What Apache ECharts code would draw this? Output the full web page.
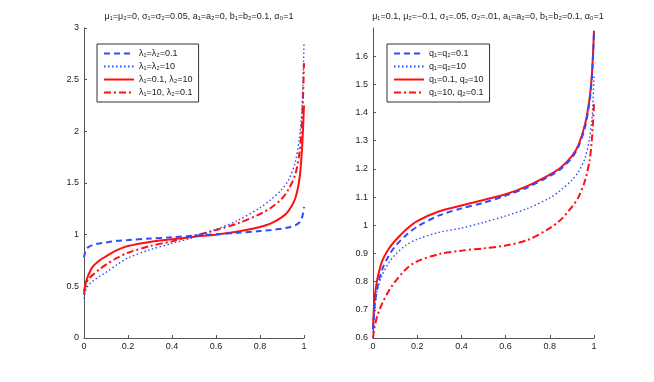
<!DOCTYPE html>
<html>
<head>
<meta charset="utf-8">
<script src="https://cdn.jsdelivr.net/npm/echarts@6/dist/echarts.min.js"></script>
<style>
html,body{margin:0;padding:0;background:#fff;}
#chart{width:654px;height:382px;}
</style>
</head>
<body>
<div id="chart"></div>
<script>
// x positions shared by all curves (probability levels)
const xs = [0, 0.005, 0.01, 0.02, 0.04, 0.07, 0.1, 0.15, 0.2, 0.3, 0.4, 0.5, 0.6, 0.7, 0.8, 0.85, 0.9, 0.93, 0.96, 0.98, 0.99, 0.995, 1];

// left panel
const leftNames = ['λ₁=λ₂=0.1', 'λ₁=λ₂=10', 'λ₁=0.1, λ₂=10', 'λ₁=10, λ₂=0.1'];
const leftA = [0.78, 0.83, 0.86, 0.88, 0.90, 0.915, 0.925, 0.94, 0.948, 0.962, 0.975, 0.99, 1.003, 1.018, 1.035, 1.045, 1.058, 1.07, 1.09, 1.12, 1.16, 1.2, 1.27];
const leftB = [0.38, 0.44, 0.47, 0.51, 0.55, 0.595, 0.635, 0.71, 0.775, 0.855, 0.915, 0.975, 1.05, 1.14, 1.26, 1.34, 1.44, 1.53, 1.7, 1.95, 2.2, 2.45, 2.85];
const leftC = [0.42, 0.5, 0.55, 0.61, 0.69, 0.75, 0.79, 0.85, 0.89, 0.93, 0.955, 0.98, 1.0, 1.03, 1.075, 1.11, 1.17, 1.23, 1.35, 1.55, 1.8, 2.0, 2.25];
const leftD = [0.45, 0.5, 0.53, 0.57, 0.61, 0.665, 0.71, 0.775, 0.825, 0.89, 0.935, 0.99, 1.045, 1.11, 1.2, 1.26, 1.35, 1.44, 1.58, 1.8, 2.05, 2.3, 2.66];

// right panel
const rightNames = ['q₁=q₂=0.1', 'q₁=q₂=10', 'q₁=0.1, q₂=10', 'q₁=10, q₂=0.1'];
const rightA = [0.63, 0.69, 0.73, 0.78, 0.84, 0.89, 0.925, 0.965, 0.995, 1.035, 1.06, 1.08, 1.105, 1.135, 1.175, 1.2, 1.24, 1.28, 1.35, 1.44, 1.52, 1.59, 1.68];
const rightB = [0.62, 0.68, 0.72, 0.77, 0.82, 0.865, 0.895, 0.93, 0.95, 0.975, 0.99, 1.01, 1.033, 1.06, 1.097, 1.125, 1.16, 1.19, 1.24, 1.31, 1.37, 1.43, 1.53];
const rightC = [0.63, 0.72, 0.76, 0.81, 0.87, 0.915, 0.945, 0.985, 1.015, 1.05, 1.07, 1.09, 1.11, 1.14, 1.18, 1.205, 1.245, 1.285, 1.36, 1.45, 1.53, 1.6, 1.69];
const rightD = [0.6, 0.63, 0.65, 0.68, 0.72, 0.765, 0.8, 0.845, 0.872, 0.898, 0.91, 0.918, 0.928, 0.948, 0.99, 1.02, 1.065, 1.1, 1.16, 1.23, 1.3, 1.36, 1.43];

const leftTitle = 'μ₁=μ₂=0, σ₁=σ₂=0.05, a₁=a₂=0, b₁=b₂=0.1, α₀=1';
const rightTitle = 'μ₁=0.1, μ₂=−0.1, σ₁=.05, σ₂=.01, a₁=a₂=0, b₁=b₂=0.1, α₀=1';

const BLUE = '#2f4bff', RED = '#ff1010';
const styles = [
  {color: BLUE, width: 2, type: [6, 4]},
  {color: BLUE, width: 1.4, type: [1.5, 2.5]},
  {color: RED, width: 2, type: 'solid'},
  {color: RED, width: 2, type: [7, 3, 2, 3]}
];
const FONT = 'Liberation Sans, Arial, sans-serif';

const pairs = ys => xs.map((x, i) => [x, ys[i]]);

const mkSeries = (names, arrs, idx) => arrs.map((ys, k) => ({
  name: names[k],
  type: 'line',
  xAxisIndex: idx,
  yAxisIndex: idx,
  data: pairs(ys),
  showSymbol: false,
  symbol: 'none',
  smooth: 0.3,
  z: 10 - k,
  lineStyle: styles[k],
  itemStyle: {color: styles[k].color}
}));

const mkX = idx => ({
  type: 'value', gridIndex: idx, min: 0, max: 1, interval: 0.2,
  axisLine: {lineStyle: {color: '#555', width: 1}},
  axisTick: {inside: true, length: 3, lineStyle: {color: '#555'}},
  axisLabel: {color: '#222', fontSize: 9, fontFamily: FONT, margin: 4},
  splitLine: {show: false}
});

const mkY = (idx, min, max, step) => ({
  type: 'value', gridIndex: idx, min: min, max: max, interval: step,
  axisLine: {show: true, lineStyle: {color: '#555', width: 1}},
  axisTick: {show: true, inside: true, length: 3, lineStyle: {color: '#555'}},
  axisLabel: {color: '#222', fontSize: 9, fontFamily: FONT, margin: 5,
    showMaxLabel: idx === 0, formatter: v => String(+v.toFixed(1))},
  splitLine: {show: false}
});

// legend: line samples only, symbol hidden
const mkLegend = (names, left) => ({
  data: names, orient: 'vertical', left: left, top: 44,
  backgroundColor: '#fff', borderColor: '#333', borderWidth: 1,
  padding: [5, 6, 5, 6], itemWidth: 30, itemHeight: 8, itemGap: 4,
  itemStyle: {opacity: 0},
  textStyle: {fontSize: 9, fontFamily: FONT, color: '#222'}
});

let myChart = echarts.init(document.getElementById('chart'), null, {renderer: 'canvas'});
myChart.setOption({
  animation: false,
  backgroundColor: '#fff',
  title: [
    {text: leftTitle, left: 194, top: 7, textAlign: 'center',
      textStyle: {fontSize: 9, fontWeight: 'normal', fontFamily: FONT, color: '#222'}},
    {text: rightTitle, left: 483, top: 7, textAlign: 'center',
      textStyle: {fontSize: 9, fontWeight: 'normal', fontFamily: FONT, color: '#222'}}
  ],
  legend: [mkLegend(leftNames, 97), mkLegend(rightNames, 387)],
  grid: [
    {left: 84, right: 350, top: 28, bottom: 44},
    {left: 373, right: 60, top: 28, bottom: 44}
  ],
  xAxis: [mkX(0), mkX(1)],
  yAxis: [mkY(0, 0, 3, 0.5), mkY(1, 0.6, 1.7, 0.1)],
  series: mkSeries(leftNames, [leftA, leftB, leftC, leftD], 0)
    .concat(mkSeries(rightNames, [rightA, rightB, rightC, rightD], 1))
});
window.addEventListener('resize', () => myChart.resize());
</script>
</body>
</html>
